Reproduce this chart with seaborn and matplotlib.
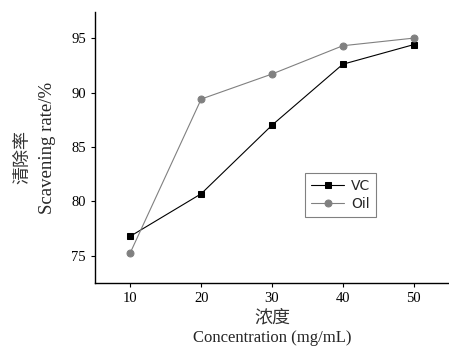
import matplotlib
matplotlib.use("Agg")
import matplotlib.pyplot as plt
import seaborn as sns

# values
concentration = [10, 20, 30, 40, 50]
vc_rate = [76.8, 80.7, 87.0, 92.6, 94.4]
oil_rate = [75.3, 89.4, 91.7, 94.3, 95.0]
y_ticks = [75, 80, 85, 90, 95]

sns.set_style("ticks")
plt.rcParams["font.family"] = ["Liberation Serif", "Noto Sans CJK SC"]

fig = plt.figure(figsize=(4.49, 3.47), dpi=100)
ax = fig.add_axes([95 / 449, 1 - 283 / 347, 1 - 95 / 449, (283 - 12) / 347])

sns.lineplot(x=concentration, y=vc_rate, ax=ax, color="black", lw=0.8,
             marker="s", markersize=5, markeredgecolor="black", label="VC")
sns.lineplot(x=concentration, y=oil_rate, ax=ax, color="#808080", lw=0.8,
             marker="o", markersize=5, markeredgecolor="#808080", label="Oil")

ax.set_xlim(5, 55)
ax.set_ylim(72.5, 97.4)
ax.set_xticks(concentration)
ax.set_yticks(y_ticks)
ax.tick_params(direction="out", length=3, width=0.8, labelsize=10.5, colors="black")
for s in ["top", "right"]:
    ax.spines[s].set_visible(False)
for s in ["left", "bottom"]:
    ax.spines[s].set_linewidth(1.0)
    ax.spines[s].set_color("black")
ax.set_xlabel("")
ax.set_ylabel("")

leg = ax.legend(loc="upper left", bbox_to_anchor=(0.575, 0.43), frameon=True,
                fancybox=False, edgecolor="#606060", handlelength=2.4,
                prop={"family": "DejaVu Sans", "size": 10}, borderpad=0.4,
                labelspacing=0.3, handletextpad=0.5)
leg.get_frame().set_linewidth(0.8)

# stacked Chinese / English axis titles
fig.text(22 / 449, 1 - 157 / 347, "清除率", rotation=90, ha="center", va="center",
         fontsize=13, family="Noto Sans CJK SC", color="#333333")
fig.text(47 / 449, 1 - 148 / 347, "Scavening rate/%", rotation=90, ha="center",
         va="center", fontsize=13.5, family="Liberation Serif")
fig.text(272 / 449, 1 - 317 / 347, "浓度", ha="center", va="center",
         fontsize=13, family="Noto Sans CJK SC", color="#333333")
fig.text(272 / 449, 1 - 338 / 347, "Concentration (mg/mL)", ha="center",
         va="center", fontsize=12, family="Liberation Serif")

fig.savefig("out.png", dpi=100)
